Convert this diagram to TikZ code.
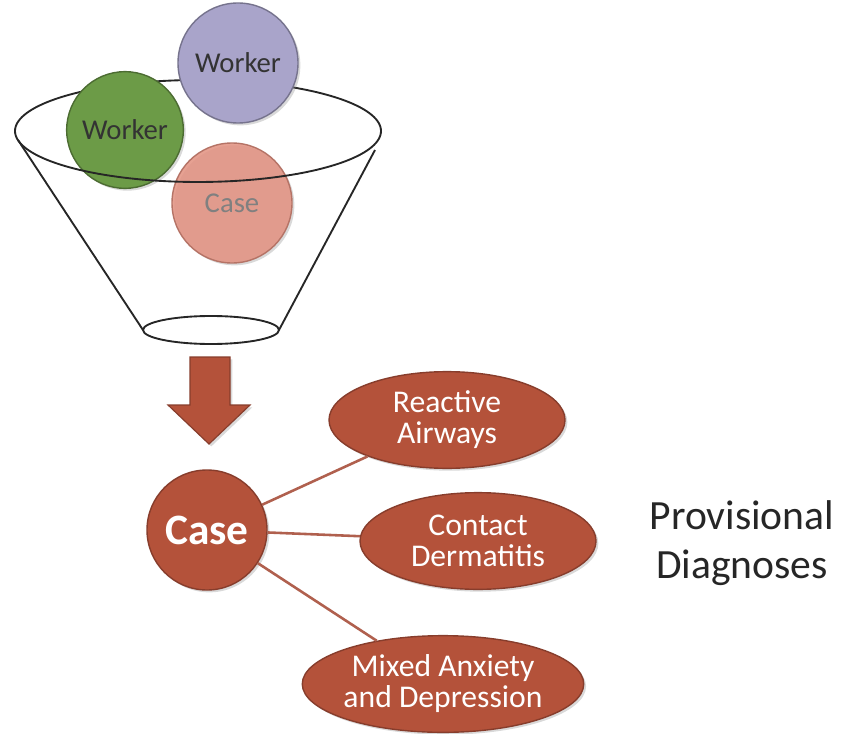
\documentclass[tikz,border=0pt]{standalone}
\usepackage{fontspec}
\setmainfont{Carlito}
\usetikzlibrary{shapes.geometric,shadows}
\definecolor{workerpurple}{HTML}{A9A4CA}
\definecolor{workergreen}{HTML}{6C9B47}
\definecolor{caselight}{HTML}{E2907F}
\definecolor{casebrown}{HTML}{B4523A}
\definecolor{linkbrown}{HTML}{B0604E}
\begin{document}
\begin{tikzpicture}[x=0.03cm,y=-0.03cm,
  funnel/.style={draw=black!85,line width=1.6pt},
  ball/.style={circle,minimum size=3.6cm,inner sep=0pt,line width=1.2pt,
    drop shadow={shadow xshift=2pt,shadow yshift=-2pt,opacity=0.3},
    font=\fontsize{24.5}{28}\selectfont},
  diag/.style={ellipse,minimum width=7.08cm,minimum height=2.9cm,inner sep=0pt,
    fill=casebrown,draw=casebrown!75!black,line width=1.2pt,text=white,align=center,
    drop shadow={shadow xshift=2pt,shadow yshift=-2pt,opacity=0.3},
    font=\fontsize{27}{26.5}\selectfont},
  link/.style={draw=linkbrown,line width=2.2pt}]
\useasboundingbox (0,0) rectangle (841,734);

% funnel, back half of the rim
\draw[funnel] plot[domain=180:360,samples=80] ({198+183*cos(\x)},{131+51*sin(\x)});

% balls in the funnel
\node[ball,fill=workerpurple,draw=workerpurple!70!black,text=black!80] (worker1) at (238,63) {Worker};
\node[ball,fill=workergreen,draw=workergreen!70!black,text=black!80,minimum size=3.5cm] (worker2) at (125,130) {Worker};
\node[ball,fill=caselight,draw=caselight!80!black,text=black!50,fill opacity=0.85,text opacity=1] (case1) at (232,203) {Case};

% funnel, front half and body
\draw[funnel] plot[domain=0:180,samples=80] ({198+183*cos(\x)},{131+51*sin(\x)});
\draw[funnel] (18,140) -- (143,330);
\draw[funnel] (375,150) -- (279,330);
\draw[funnel] (211,330) ellipse (68 and 14);

% block arrow
\fill[casebrown,draw=casebrown!75!black,line width=1pt,
  drop shadow={shadow xshift=2pt,shadow yshift=-2pt,opacity=0.3}]
  (190,357) -- (230,357) -- (230,405) -- (250,405) -- (209,444)
  -- (168,405) -- (190,405) -- cycle;

% case and diagnoses
\node[ball,fill=casebrown,draw=casebrown!75!black,text=white,
  font=\fontsize{37}{40}\selectfont\bfseries] (case2) at (207,530) {Case};
\node[diag] (reactive) at (447,420) {Reactive\\Airways};
\node[diag] (contact) at (478,541) {Contact\\Dermatitis};
\node[diag] (mixed) at (443,684) {Mixed Anxiety\\and Depression};

\draw[link] (case2) -- (reactive);
\draw[link] (case2) -- (contact);
\draw[link] (case2) -- (mixed);

\node[align=center,text=black!85,font=\fontsize{35.5}{42}\selectfont] (provisional) at (742,543) {Provisional\\Diagnoses};
\end{tikzpicture}
\end{document}
